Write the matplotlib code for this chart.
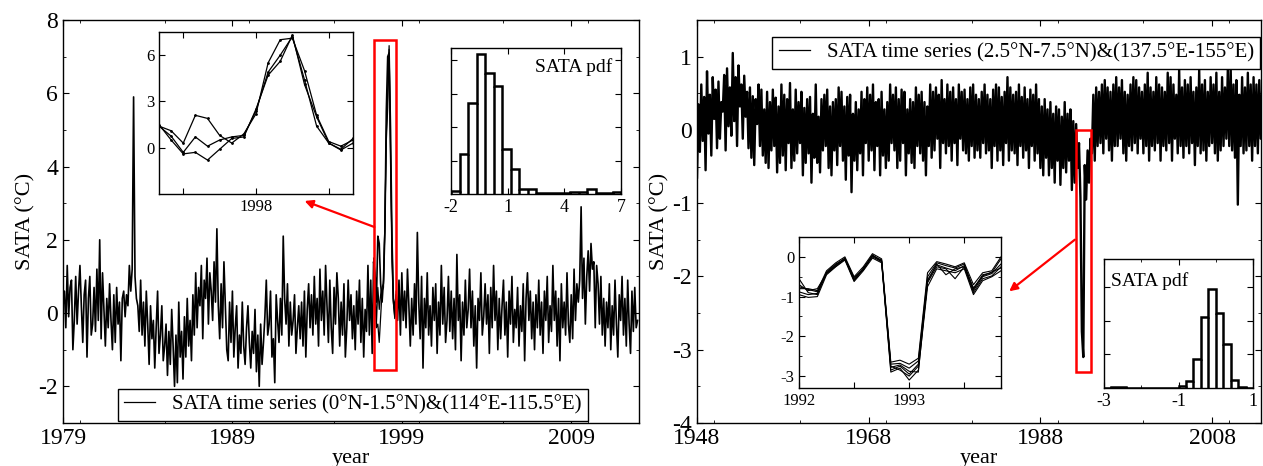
import numpy as np
import matplotlib
matplotlib.use('Agg')
import matplotlib.pyplot as plt
from matplotlib.patches import Rectangle
from matplotlib.ticker import MultipleLocator

plt.rcParams['font.family'] = ['Liberation Serif', 'DejaVu Serif']
plt.rcParams['axes.unicode_minus'] = False

# ---- left: SATA (0N-1.5N)&(114E-115.5E), monthly from 1979, values in 0.01 C
left_sata = [
    20, 60, -40, 130, -10, 70, 90, -100, -20, 100, -30, 60,
    130, 20, -80, 50, 90, -120, 40, 100, -60, -30, 70, -50,
    120, -20, 200, -70, 110, 10, -90, 40, -40, 80, -20, -100,
    50, -80, 70, -30, 30, -130, 40, 60, -10, 50, 20, 130,
    60, 120, 590, 100, 40, 20, -50, 90, -60, 30, -90, 60,
    -30, -140, 20, -70, -20, -150, -40, 60, -110, -60, 20, -130,
    -90, -30, -170, -50, -140, 10, -90, -200, -60, -190, 30, -120,
    -50, -180, -10, -120, 40, -90, -20, -130, 50, -60, 110, -40,
    70, 20, 130, -70, 90, 40, 150, -30, 110, 60, -20, 140,
    30, 230, 20, -70, 80, -40, 140, 20, -100, -130, 30, -80,
    60, -120, -40, 20, -150, -60, -110, 30, -90, -140, -40, 20,
    -80, -150, -50, -110, 10, -160, -60, -200, -30, -140, -80, -10,
    90, -60, -30, 60, -120, -70, -190, 50, -20, -80, 40, -60,
    210, 40, -30, 80, -90, 30, -60, -20, 50, -110, -40, 20,
    -70, 30, -90, 60, -120, 10, 80, -40, 50, -60, 100, -30,
    40, -90, 120, -20, 60, -60, 130, 20, -80, 90, -40, -110,
    70, -30, 110, 40, -90, 30, -60, 80, -120, -40, 90, -20,
    50, -70, 20, -100, 60, -30, 90, -80, 40, -120, 10, -50,
    130, -60, 90, -110, 140, 110, 30, 210, 190, 80, 30, 90,
    220, 550, 700, 710, 500, 210, 40, 10, 50, -20, 90, -60,
    110, -20, 60, -40, 120, 20, -90, 40, -60, 80, -30, 220,
    30, -70, 100, -150, 40, -40, 110, -60, 20, -90, 70, -20,
    80, -110, 30, -60, 130, -30, 70, -80, -20, 100, -50, 60,
    -70, 40, -100, 160, -20, 50, -130, 30, -60, 90, -40, 10,
    120, -40, 60, -90, 20, -150, 40, -20, 110, -60, -10, 80,
    -30, 50, -110, 70, -40, 130, -20, 60, -100, 40, -70, 20,
    90, -60, 30, -120, 60, -30, 100, -80, 10, -40, 70, -90,
    20, -50, 80, -130, 40, 110, -20, 60, -70, 30, -100, 50,
    -40, 90, -60, 30, -110, 60, -20, 100, -80, 20, -50, 130,
    -20, 60, -90, 40, -130, 80, -40, 30, -60, 110, -30, -80,
    50, -70, 120, -20, 80, 30, 90, 290, 40, 150, -30, 100,
    170, 60, 190, 120, 140, -40, 130, 80, -30, 100, -60, 40,
    -90, 30, -40, 80, -100, 20, -60, 90, -30, -120, 50, -20,
    100, -60, 40, -90, 90, -30, -110, 60, -50, 70, -40, -20,
]
# other two grid points, May 1997 - Sep 1998
left_grid_b = [150, 50, -40, -30, -80, -10, 60, 70, 250, 470, 560, 730, 410, 200, 30, -15, 30]
left_grid_c = [140, 75, -30, 70, 10, 50, 70, 80, 240, 490, 600, 720, 440, 140, 30, -10, 60]

left_pdf_edges = np.linspace(-2, 7, 21)
left_pdf = [8, 119, 272, 420, 362, 324, 135, 74, 15, 15, 2, 2, 2, 2, 5, 5, 14, 4, 2, 5]

# ---- right: SATA (2.5N-7.5N)&(137.5E-155E), every 2 months from 1948, 0.01 C
right_sata = [
    -65, 35, -30, 62, -15, 45, -55, 80, -5, 48, -35, 72,
    15, 55, -25, 66, -12, 38, 25, 75, -28, 84, 5, 58,
    -8, 105, 12, 72, -22, 88, 32, 62, -12, 74, 18, 52,
    -25, 58, -38, 46, -48, 42, 8, 62, -22, 55, -35, 28,
    -45, 52, -52, 38, -28, 55, -22, 44, -58, 32, -45, 62,
    -35, 48, -55, 42, -18, 64, -52, 28, -42, 55, -32, 38,
    -18, 52, -62, 30, -45, 42, -32, 45, -72, 22, -38, 62,
    -45, 18, -58, 42, -28, 48, -22, 55, -52, 32, -62, 38,
    -28, 42, -48, 58, -22, 52, -42, 32, -68, 45, -35, 48,
    -85, 22, -42, 38, -55, 28, -32, 52, -62, 42, -18, 58,
    -42, 48, -28, 62, -55, 38, -22, 42, -62, 52, -35, 28,
    -52, 38, -42, 62, -18, 48, -28, 58, -52, 42, -42, 55,
    -18, 52, -62, 28, -32, 42, -45, 38, -52, 58, -22, 48,
    -32, 52, -42, 38, -62, 32, -22, 62, -38, 52, -28, 58,
    -12, 48, -52, 68, -18, 42, -32, 62, -22, 52, -42, 58,
    -18, 42, -48, 62, -12, 52, -28, 55, -32, 42, -42, 58,
    -22, 62, -38, 48, -28, 42, -38, 52, -18, 62, -32, 48,
    -28, 42, -52, 55, -22, 62, -42, 58, -28, 45, -48, 52,
    -18, 72, -42, 58, -28, 48, -32, 52, -48, 62, -22, 45,
    -38, 58, -28, 42, -52, 55, -22, 48, -42, 62, -32, 42,
    -52, 32, -62, 42, -38, 28, -62, 38, -52, 22, -72, 32,
    -42, 28, -75, 18, -52, 38, -58, 22, -42, 28, -82, 12,
    -72, 8, -52, -18, -92, -275, -310, -48, -95, -28, -72, -12,
    -32, 48, -42, 58, -22, 52, -18, 62, -32, 68, -12, 58,
    -28, 52, -42, 62, -22, 72, -22, 58, -12, 68, -32, 52,
    -42, 48, -22, 62, -28, 72, -18, 68, -32, 58, -12, 52,
    -32, 62, -22, 78, -42, 58, -22, 52, -28, 72, -18, 62,
    -42, 58, -22, 52, -28, 78, -18, 72, -42, 62, -12, 48,
    -32, 82, -22, 58, -38, 68, -22, 62, -32, 72, -18, 52,
    -48, 58, -22, 82, -32, 62, -28, 68, -42, 52, -22, 72,
    -18, 62, -32, 78, -42, 52, -28, 72, -22, 58, -12, 82,
    -22, 85, -28, 62, -38, 68, -102, 48, -22, 72, -32, 58,
    -28, 78, -22, 62, -42, 72, -22, 62, -32, 68, -12, 52,
]

# ensemble of grid points, monthly Jan 1992 - Nov 1993
right_members = [
    [-0.75, -0.82, -0.88, -0.42, -0.22, -0.03, -0.55, -0.30, 0.05, -0.10, -2.70, -2.68, -2.80, -2.62, -0.50, -0.15, -0.22, -0.28, -0.18, -0.82, -0.45, -0.40, -0.05],
    [-0.55, -0.90, -0.95, -0.38, -0.18, -0.05, -0.60, -0.28, 0.00, -0.12, -2.85, -2.75, -2.95, -2.70, -0.65, -0.25, -0.30, -0.55, -0.25, -0.90, -0.55, -0.48, -0.25],
    [-0.95, -1.02, -1.00, -0.45, -0.25, -0.08, -0.62, -0.35, -0.03, -0.15, -2.90, -2.80, -3.10, -2.85, -0.75, -0.30, -0.35, -0.40, -0.30, -0.95, -0.60, -0.50, -0.35],
    [-0.80, -0.80, -0.85, -0.35, -0.15, 0.00, -0.50, -0.25, 0.08, -0.05, -2.65, -2.60, -2.70, -2.55, -0.40, -0.12, -0.18, -0.25, -0.15, -0.70, -0.40, -0.35, 0.00],
    [-0.88, -0.95, -0.92, -0.40, -0.20, -0.04, -0.58, -0.32, 0.02, -0.08, -2.78, -2.72, -2.88, -2.90, -0.58, -0.20, -0.28, -0.35, -0.22, -0.85, -0.50, -0.42, -0.18],
    [-0.70, -0.85, -0.80, -0.42, -0.24, -0.06, -0.52, -0.33, 0.04, -0.12, -2.75, -2.85, -3.00, -2.75, -0.62, -0.18, -0.45, -0.30, -0.25, -0.78, -0.48, -0.38, -0.28],
]

right_pdf_edges = np.linspace(-3, 1, 21)
right_pdf = [0, 4, 2, 1, 1, 0, 0, 0, 0, 1, 5, 20, 85, 212, 294, 222, 132, 25, 2, 0]

W, H = 1263, 466


def box(x0, y0, x1, y1):
    # pixel box (top-left origin) -> figure fraction rect
    return [x0 / W, 1 - y1 / H, (x1 - x0) / W, (y1 - y0) / H]


def style(ax, size):
    ax.tick_params(which='both', direction='in', top=True, right=True, labelsize=size)
    ax.tick_params(which='major', length=4)
    ax.tick_params(which='minor', length=2.5)
    for s in ax.spines.values():
        s.set_linewidth(1.0)


fig = plt.figure(figsize=(W / 100, H / 100), dpi=100)

# ================= left panel =================
ax1 = fig.add_axes(box(63, 20, 639, 423))
t1 = 1979 + np.arange(len(left_sata)) / 12
y1 = np.array(left_sata) / 100
ax1.plot(t1, y1, color='black', lw=1.2,
         label='SATA time series (0°N-1.5°N)&(114°E-115.5°E)')
i0 = (1997 - 1979) * 12 + 4
tw = t1[i0:i0 + 17]
ax1.plot(tw, np.array(left_grid_b) / 100, color='black', lw=0.9)
ax1.plot(tw, np.array(left_grid_c) / 100, color='black', lw=0.9)
ax1.set_xlim(1979, 2013)
ax1.set_ylim(-3, 8)
ax1.set_xticks([1979, 1989, 1999, 2009])
ax1.xaxis.set_minor_locator(MultipleLocator(5))
ax1.set_yticks([-2, 0, 2, 4, 6, 8])
ax1.yaxis.set_minor_locator(MultipleLocator(1))
style(ax1, 17)
ax1.set_xlabel('year', fontsize=16, labelpad=0)
ax1.set_ylabel('SATA (°C)', fontsize=16, labelpad=2)
ax1.add_patch(Rectangle((1997.35, -1.55), 1.3, 9.0, fill=False, ec='red', lw=1.8, zorder=5))
leg1 = ax1.legend(loc='lower center', bbox_to_anchor=(0.503, 0.0), borderaxespad=0.1,
                  fontsize=15, fancybox=False, edgecolor='black', framealpha=1,
                  handlelength=1.5, borderpad=0.3)
leg1.get_lines()[0].set_linewidth(0.9)
ax1.annotate('', xy=(302 / W, 1 - 200 / H), xycoords='figure fraction',
             xytext=(377 / W, 1 - 228 / H), textcoords='figure fraction',
             arrowprops=dict(arrowstyle='-|>', color='red', lw=1.6, mutation_scale=12),
             annotation_clip=False)

# zoom inset
ax1a = fig.add_axes(box(159, 32, 353, 194))
ax1a.plot(tw, y1[i0:i0 + 17], color='black', lw=0.9, marker='.', ms=2)
ax1a.plot(tw, np.array(left_grid_b) / 100, color='black', lw=0.9, marker='.', ms=2)
ax1a.plot(tw, np.array(left_grid_c) / 100, color='black', lw=0.9, marker='.', ms=2)
ax1a.set_xlim(1997 + 4 / 12, 1998 + 8 / 12)
ax1a.set_ylim(-3, 7.5)
ax1a.set_xticks([1997.5, 1998, 1998.5])
ax1a.set_xticklabels(['', '1998', ''])
ax1a.set_yticks([0, 3, 6])
style(ax1a, 12)

# pdf inset
ax1b = fig.add_axes(box(451, 48, 621, 194))
ax1b.stairs(left_pdf, left_pdf_edges, fill=False, color='black', lw=1.8)
ax1b.vlines(left_pdf_edges[1:-1], 0, np.minimum(left_pdf[:-1], left_pdf[1:]), color='black', lw=1.8)
ax1b.set_xlim(-2, 7)
ax1b.set_ylim(0, 437)
ax1b.set_xticks([-2, 1, 4, 7])
ax1b.set_yticks([100, 200, 300, 400])
ax1b.set_yticklabels([])
style(ax1b, 13)
ax1b.text(0.95, 0.93, 'SATA pdf', transform=ax1b.transAxes, ha='right', va='top', fontsize=14)

# ================= right panel =================
ax2 = fig.add_axes(box(697, 20, 1261, 423))
t2 = 1948 + np.arange(len(right_sata)) / 6
ax2.plot(t2, np.array(right_sata) / 100, color='black', lw=1.7,
         label='SATA time series (2.5°N-7.5°N)&(137.5°E-155°E)')
ax2.set_xlim(1948, 2013.7)
ax2.set_ylim(-4, 1.5)
ax2.set_xticks([1948, 1968, 1988, 2008])
ax2.xaxis.set_minor_locator(MultipleLocator(10))
ax2.set_yticks([-4, -3, -2, -1, 0, 1])
ax2.yaxis.set_minor_locator(MultipleLocator(0.5))
style(ax2, 17)
ax2.set_xlabel('year', fontsize=16, labelpad=0)
ax2.set_ylabel('SATA (°C)', fontsize=16, labelpad=2)
ax2.add_patch(Rectangle((1992.1, -3.3), 1.8, 3.3, fill=False, ec='red', lw=1.8, zorder=5))
leg2 = ax2.legend(loc='upper center', bbox_to_anchor=(0.566, 0.958), borderaxespad=0,
                  fontsize=15, fancybox=False, edgecolor='black', framealpha=1,
                  handlelength=1.5, borderpad=0.3)
leg2.get_lines()[0].set_linewidth(0.9)
ax2.annotate('', xy=(1007 / W, 1 - 293 / H), xycoords='figure fraction',
             xytext=(1077 / W, 1 - 238 / H), textcoords='figure fraction',
             arrowprops=dict(arrowstyle='-|>', color='red', lw=1.6, mutation_scale=12),
             annotation_clip=False)

ax2a = fig.add_axes(box(799, 237, 1001, 388))
tm = 1992 + np.arange(len(right_members[0])) / 12
for m in right_members:
    ax2a.plot(tm, m, color='black', lw=0.8)
ax2a.set_xlim(1992, 1992 + 22 / 12)
ax2a.set_ylim(-3.3, 0.5)
ax2a.set_xticks([1992, 1992.5, 1993, 1993.5])
ax2a.set_xticklabels(['1992', '', '1993', ''])
ax2a.set_yticks([-3, -2, -1, 0])
ax2a.yaxis.set_minor_locator(MultipleLocator(0.5))
style(ax2a, 12)

ax2b = fig.add_axes(box(1104, 259, 1253, 388))
ax2b.stairs(right_pdf, right_pdf_edges, fill=False, color='black', lw=1.8)
ax2b.vlines(right_pdf_edges[1:-1], 0, np.minimum(right_pdf[:-1], right_pdf[1:]), color='black', lw=1.8)
ax2b.set_xlim(-3, 1)
ax2b.set_ylim(0, 384)
ax2b.set_xticks([-3, -1, 1])
ax2b.xaxis.set_minor_locator(MultipleLocator(1))
ax2b.set_yticks([100, 200, 300])
ax2b.set_yticklabels([])
style(ax2b, 13)
ax2b.text(0.05, 0.9, 'SATA pdf', transform=ax2b.transAxes, ha='left', va='top', fontsize=14)

fig.savefig('out.png', dpi=100)
